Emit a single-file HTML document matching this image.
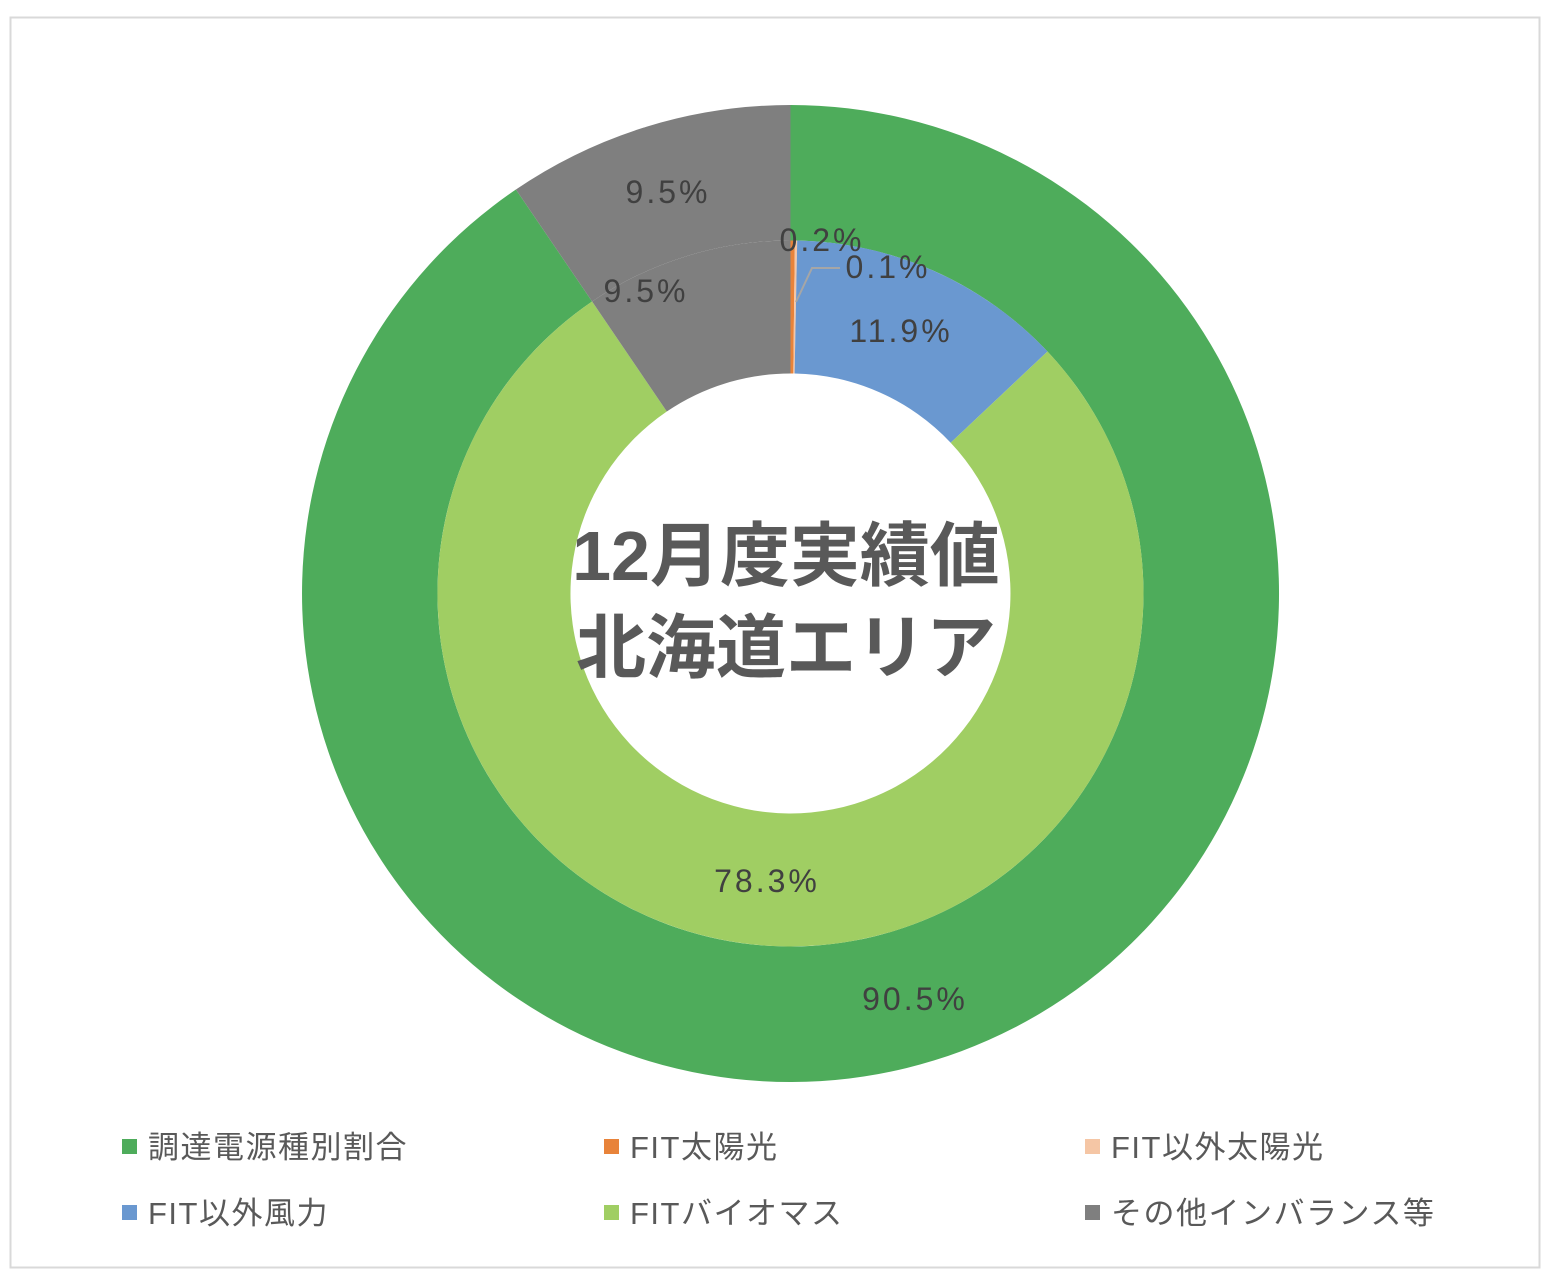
<!DOCTYPE html>
<html><head><meta charset="utf-8"><style>
html,body{margin:0;padding:0;background:#fff;}
svg{display:block;}
text{font-family:"Liberation Sans","Noto Sans CJK JP",sans-serif;}
</style></head><body>
<svg width="1558" height="1282" viewBox="0 0 1558 1282" xmlns="http://www.w3.org/2000/svg">
<rect x="0" y="0" width="1558" height="1282" fill="#fff"/>
<rect x="10.5" y="17.5" width="1529" height="1250" fill="#fff" stroke="#d9d9d9" stroke-width="2"/>
<!-- outer ring -->
<path d="M790.5,105 A488.5,488.5 0 1 1 515.9,189.5 L592.1,301.5 A353,353 0 1 0 790.5,240.5 Z" fill="#4EAC5B"/>
<path d="M515.9,189.5 A488.5,488.5 0 0 1 790.5,105 L790.5,240.5 A353,353 0 0 0 592.1,301.5 Z" fill="#7F7F7F"/>
<!-- inner ring -->
<path d="M790.5,240.5 A353,353 0 0 1 794.9,240.5 L793.3,373.5 A220,220 0 0 0 790.5,373.5 Z" fill="#E8833A"/>
<path d="M794.9,240.5 A353,353 0 0 1 797.2,240.5 L794.6,373.5 A220,220 0 0 0 793.3,373.5 Z" fill="#F5C6A5"/>
<path d="M797.2,240.5 A353,353 0 0 1 1047.5,351.5 L950.7,442.7 A220,220 0 0 0 794.6,373.5 Z" fill="#6A98D0"/>
<path d="M1047.5,351.5 A353,353 0 1 1 592.1,301.5 L666.8,411.5 A220,220 0 1 0 950.7,442.7 Z" fill="#A0CE63"/>
<path d="M592.1,301.5 A353,353 0 0 1 790.5,240.5 L790.5,373.5 A220,220 0 0 0 666.8,411.5 Z" fill="#7F7F7F"/>
<polyline points="796,302 812,268 840,268" fill="none" stroke="#a6a6a6" stroke-width="2"/>
<g fill="#404040" font-size="32" text-anchor="middle" letter-spacing="3">
<text x="668" y="203">9.5%</text>
<text x="822" y="251">0.2%</text>
<text x="888" y="278">0.1%</text>
<text x="901" y="342">11.9%</text>
<text x="646" y="302">9.5%</text>
<text x="767" y="892">78.3%</text>
<text x="915" y="1010">90.5%</text>
</g>
<g fill="#595959" font-size="70" font-weight="bold" text-anchor="middle">
<text x="786" y="580">12月度実績値</text>
<text x="786" y="672">北海道エリア</text>
</g>
<g font-size="31" fill="#595959" letter-spacing="1.5">
<rect x="122" y="1139" width="15" height="15" fill="#4EAC5B"/><text x="148" y="1158">調達電源種別割合</text>
<rect x="604" y="1139" width="15" height="15" fill="#E8833A"/><text x="630" y="1158">FIT太陽光</text>
<rect x="1085" y="1139" width="15" height="15" fill="#F5C6A5"/><text x="1111" y="1158">FIT以外太陽光</text>
<rect x="122" y="1205" width="15" height="15" fill="#6A98D0"/><text x="148" y="1224">FIT以外風力</text>
<rect x="604" y="1205" width="15" height="15" fill="#A0CE63"/><text x="630" y="1224">FITバイオマス</text>
<rect x="1085" y="1205" width="15" height="15" fill="#7F7F7F"/><text x="1111" y="1224">その他インバランス等</text>
</g>
</svg>
</body></html>
